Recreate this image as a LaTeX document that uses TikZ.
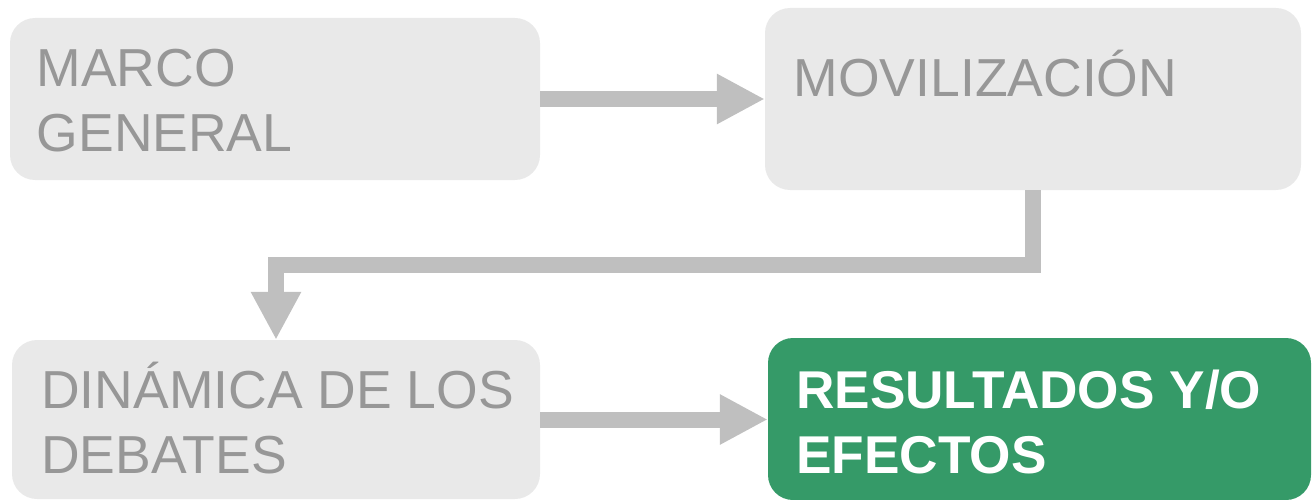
\documentclass[tikz,border=0pt]{standalone}
\usepackage{fontspec}
\setmainfont{Liberation Sans}
\usetikzlibrary{arrows.meta}
\definecolor{boxgray}{HTML}{E9E9E9}
\definecolor{txtgray}{HTML}{979797}
\definecolor{arrgray}{HTML}{BFBFBF}
\definecolor{resgreen}{HTML}{359A68}
\begin{document}
\begin{tikzpicture}[x=1pt,y=-1pt,
  gbox/.style={fill=boxgray, draw=none, rounded corners=25pt, inner sep=0pt},
  greenbox/.style={fill=resgreen, draw=none, rounded corners=25pt, inner sep=0pt},
  lbl/.style={anchor=base west, inner sep=0pt, text=txtgray,
    font=\fontsize{53.5}{65}\selectfont},
  lblw/.style={anchor=base west, inner sep=0pt, text=white,
    font=\fontsize{53.2}{65}\selectfont\bfseries},
  conn/.style={draw=arrgray, line width=16pt, line join=miter,
    -{Triangle[length=48pt,width=47pt]}}]
\useasboundingbox (0,0) rectangle (1312,500);
\node[gbox, minimum width=530pt, minimum height=162pt] (m1) at (275,99) {};
\node[gbox, minimum width=536pt, minimum height=182pt] (m2) at (1033,99) {};
\node[gbox, minimum width=528pt, minimum height=159pt] (m3) at (276,419.5) {};
\node[greenbox, minimum width=543pt, minimum height=162pt] (m4) at (1039.5,419) {};
\node[lbl] (t1) at (36.5,87) {\vtop{\hbox{MARCO}\hbox{GENERAL}}};
\node[lbl] (t2) at (793.5,97) {MOVILIZACIÓN};
\node[lbl] (t3) at (41,408) {\vtop{\hbox{DINÁMICA DE LOS}\hbox{DEBATES}}};
\node[lblw] (t4) at (796,408) {\vtop{\hbox{RESULTADOS Y/O}\hbox{EFECTOS}}};
\draw[conn] (m1.east) -- (m2.west);
\draw[conn] (m2.south) -- ++(0,75) -| (m3.north);
\draw[conn] (m3.east) -- (m3.east -| m4.west);
\end{tikzpicture}
\end{document}
